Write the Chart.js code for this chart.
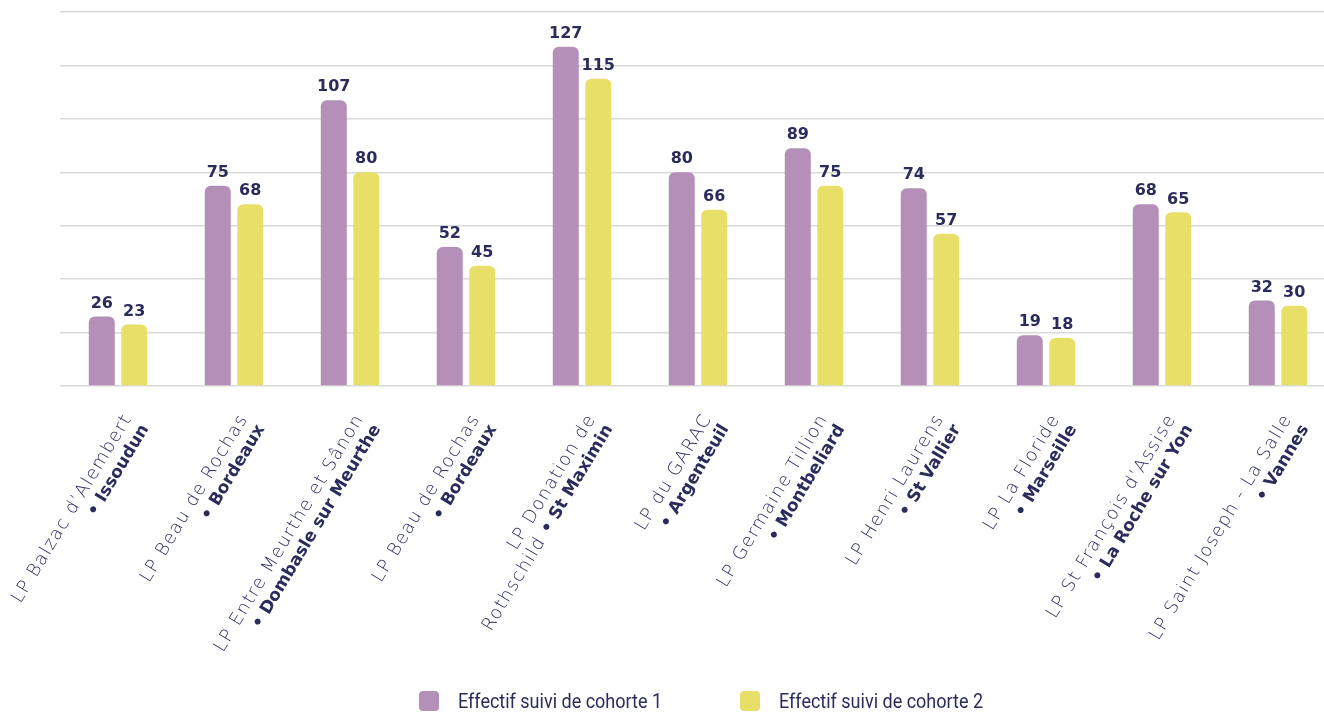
<!DOCTYPE html>
<html lang="fr">
<head>
<meta charset="utf-8">
<title>Effectif suivi par cohorte</title>
<script src="https://cdn.jsdelivr.net/npm/chart.js@4.4.1/dist/chart.umd.min.js"></script>
<style>
    html, body { margin: 0; padding: 0; background: #ffffff; overflow: hidden; }
    #wrap { position: relative; width: 1324px; height: 712px; overflow: hidden; }
    #chart { position: absolute; left: 0; top: 0; }
    .item {
        position: absolute; top: 689px; display: flex; align-items: center;
        font-family: Roboto, sans-serif; font-size: 20px; color: #2b2c5c;
    }
    .box { width: 20px; height: 20px; border-radius: 4px; margin-right: 19px; }
    .txt { display: inline-block; transform: scaleX(0.9); transform-origin: left center; white-space: nowrap; }
</style>
</head>
<body>
<div id="wrap">
    <canvas id="chart" width="1340" height="712"></canvas>
</div>
<script>
// Data
const schoolNames = [
    'LP Balzac d\u2019Alembert',
    'LP Beau de Rochas',
    'LP Entre Meurthe et S\u00e2non',
    'LP Beau de Rochas',
    'LP Donation de',
    'LP du GARAC',
    'LP Germaine Tillion',
    'LP Henri Laurens',
    'LP La Floride',
    'LP St Fran\u00e7ois d\u2019Assise',
    'LP Saint Joseph - La Salle'
];
// part of the school name that wraps onto the city line
const nameWraps = ['', '', '', '', 'Rothschild', '', '', '', '', '', ''];
const cities = [
    'Issoudun', 'Bordeaux', 'Dombasle sur Meurthe', 'Bordeaux', 'St Maximin',
    'Argenteuil', 'Montbeliard', 'St Vallier', 'Marseille', 'La Roche sur Yon', 'Vannes'
];
const cohorte1 = [26, 75, 107, 52, 127, 80, 89, 74, 19, 68, 32];
const cohorte2 = [23, 68, 80, 45, 115, 66, 75, 57, 18, 65, 30];
const seriesNames = ['Effectif suivi de cohorte 1', 'Effectif suivi de cohorte 2'];
const seriesColors = ['#b48fb8', '#e8df68'];

const navy = '#2b2c5c';
const lightFont = '200 18px "DejaVu Sans"';
const boldFont = 'bold 17px "DejaVu Sans"';

const labels = schoolNames.map((n, i) => (n + ' ' + nameWraps[i]).trim() + ' \u2022 ' + cities[i]);

// value labels above each bar
const valueLabels = {
    id: 'valueLabels',
    afterDatasetsDraw(chart) {
        const ctx = chart.ctx;
        ctx.save();
        ctx.font = 'bold 16px "DejaVu Sans"';
        ctx.fillStyle = navy;
        ctx.textAlign = 'center';
        ctx.textBaseline = 'bottom';
        chart.data.datasets.forEach((ds, di) => {
            chart.getDatasetMeta(di).data.forEach((bar, i) => {
                ctx.fillText(ds.data[i], bar.x, bar.y - 5);
            });
        });
        ctx.restore();
    }
};

// rotated two-line category labels (light name, bold city)
const categoryLabels = {
    id: 'categoryLabels',
    afterDraw(chart) {
        const ctx = chart.ctx;
        const xScale = chart.scales.x;
        const base = chart.chartArea.bottom;
        const lineGap = 20;
        ctx.save();
        ctx.fillStyle = navy;
        ctx.textAlign = 'right';
        ctx.textBaseline = 'middle';
        schoolNames.forEach((name, i) => {
            ctx.save();
            ctx.translate(xScale.getPixelForValue(i) + 10, base + 30);
            ctx.rotate(-59 * Math.PI / 180);
            ctx.font = lightFont;
            ctx.letterSpacing = '1.3px';
            ctx.fillText(name, 0, 0);
            ctx.font = boldFont;
            ctx.letterSpacing = '0px';
            const city = '\u2022 ' + cities[i];
            ctx.fillText(city, 0, lineGap);
            if (nameWraps[i]) {
                const w = ctx.measureText(city).width;
                ctx.font = lightFont;
                ctx.letterSpacing = '1.3px';
                ctx.fillText(nameWraps[i] + ' ', -w, lineGap);
            }
            ctx.restore();
        });
        ctx.restore();
    }
};

const ctx = document.getElementById('chart');
new Chart(ctx.getContext('2d'), {
    type: 'bar',
    data: {
        labels: labels,
        datasets: [cohorte1, cohorte2].map((d, i) => ({
            label: seriesNames[i],
            data: d,
            backgroundColor: seriesColors[i],
            borderRadius: 6,
            categoryPercentage: 0.56,
            barPercentage: 0.8
        }))
    },
    options: {
        responsive: false,
        animation: false,
        layout: { padding: { left: 60, right: 4, top: 12, bottom: 326 } },
        plugins: {
            legend: { display: false },
            tooltip: { enabled: false }
        },
        scales: {
            x: { display: false },
            y: {
                min: 0,
                max: 140,
                ticks: { display: false, stepSize: 20 },
                grid: { color: '#d9d9d9', lineWidth: 1.5, drawTicks: false },
                border: { display: false }
            }
        }
    },
    plugins: [valueLabels, categoryLabels]
});

// legend
const wrap = document.getElementById('wrap');
const legendLeft = [419, 740];
seriesNames.forEach((name, i) => {
    const item = document.createElement('div');
    item.className = 'item';
    item.style.left = legendLeft[i] + 'px';
    item.innerHTML = '<span class="box" style="background:' + seriesColors[i] + '"></span><span class="txt">' + name + '</span>';
    wrap.appendChild(item);
});
</script>
</body>
</html>
